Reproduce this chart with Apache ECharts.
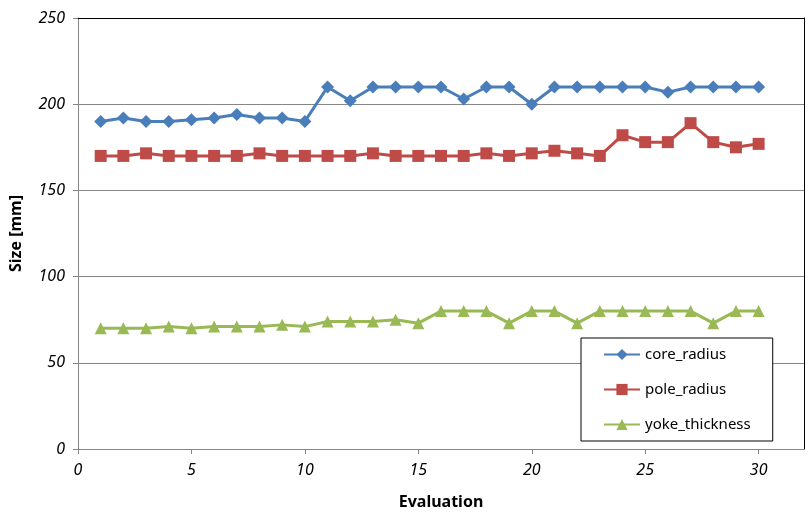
<!DOCTYPE html>
<html>
<head>
<meta charset="utf-8">
<script src="https://cdn.jsdelivr.net/npm/echarts@6/dist/echarts.min.js"></script>
<style>html,body{margin:0;padding:0;background:#fff}#c{width:812px;height:515px}</style>
</head>
<body>
<div id="c"></div>
<script>
const evaluations = [1,2,3,4,5,6,7,8,9,10,11,12,13,14,15,16,17,18,19,20,21,22,23,24,25,26,27,28,29,30];
const coreRadius = [190,192,190,190,191,192,194,192,192,190,210,202,210,210,210,210,203,210,210,200,210,210,210,210,210,207,210,210,210,210];
const poleRadius = [170,170,171.5,170,170,170,170,171.5,170,170,170,170,171.5,170,170,170,170,171.5,170,171.5,173,171.5,170,182,178,178,189,178,175,177];
const yokeThickness = [70,70,70,71,70,71,71,71,72,71,74,74,74,75,73,80,80,80,73,80,80,73,80,80,80,80,80,73,80,80];
const xTicks = [0,5,10,15,20,25,30];
const yTicks = [0,50,100,150,200,250];

const font = "'Noto Sans', 'Open Sans', sans-serif";
const pair = (ys) => evaluations.map((x, i) => [x, ys[i]]);

const chart = echarts.init(document.getElementById('c'), null, {renderer: 'canvas'});
chart.setOption({
  animation: false,
  backgroundColor: '#fff',
  grid: {left: 77, right: 8, top: 18, bottom: 66, show: false},
  xAxis: [{
    type: 'value', min: 0, max: 32, interval: 5, position: 'bottom',
    name: 'Evaluation', nameLocation: 'middle', nameGap: 45,
    nameTextStyle: {fontFamily: font, fontWeight: 'bold', fontSize: 16, color: '#000'},
    axisLine: {show: true, onZero: false, lineStyle: {color: '#868686', width: 1}},
    axisTick: {show: true, length: 5, inside: false, customValues: xTicks, lineStyle: {color: '#868686'}},
    axisLabel: {customValues: xTicks, margin: 13, fontFamily: font, fontStyle: 'italic', fontSize: 16, color: '#000'},
    splitLine: {show: false}
  }, {
    type: 'value', min: 0, max: 32, position: 'top',
    axisLine: {show: true, onZero: false, lineStyle: {color: '#000', width: 1}},
    axisTick: {show: false}, axisLabel: {show: false}, splitLine: {show: false}
  }],
  yAxis: [{
    type: 'value', min: 0, max: 250, interval: 50, position: 'left',
    name: 'Size [mm]', nameLocation: 'middle', nameGap: 54,
    nameTextStyle: {fontFamily: font, fontWeight: 'bold', fontSize: 16, color: '#000'},
    axisLine: {show: true, onZero: false, lineStyle: {color: '#868686', width: 1}},
    axisTick: {show: true, length: 5, inside: false, customValues: yTicks, lineStyle: {color: '#868686'}},
    axisLabel: {customValues: yTicks, margin: 13, fontFamily: font, fontStyle: 'italic', fontSize: 16, color: '#000'},
    splitLine: {show: true, lineStyle: {color: '#868686', width: 1}}
  }, {
    type: 'value', min: 0, max: 250, position: 'right',
    axisLine: {show: true, onZero: false, lineStyle: {color: '#000', width: 1}},
    axisTick: {show: false}, axisLabel: {show: false}, splitLine: {show: false}
  }],
  legend: {
    orient: 'vertical', left: 581, top: 338,
    backgroundColor: '#fff', borderColor: '#000', borderWidth: 1,
    padding: [9, 22, 9, 22], itemGap: 20, itemWidth: 36, itemHeight: 14,
    textStyle: {fontFamily: font, fontSize: 15, color: '#000'},
    data: ['core_radius', 'pole_radius', 'yoke_thickness']
  },
  series: [
    {name: 'core_radius', type: 'line', data: pair(coreRadius), symbol: 'diamond', symbolSize: 13,
     lineStyle: {width: 3, color: '#4A7EBB'}, itemStyle: {color: '#4A7EBB'}},
    {name: 'pole_radius', type: 'line', data: pair(poleRadius), symbol: 'rect', symbolSize: 12,
     lineStyle: {width: 3, color: '#BE4B48'}, itemStyle: {color: '#BE4B48'}},
    {name: 'yoke_thickness', type: 'line', data: pair(yokeThickness), symbol: 'triangle', symbolSize: 12,
     lineStyle: {width: 3, color: '#98B954'}, itemStyle: {color: '#98B954'}}
  ]
});
</script>
</body>
</html>
